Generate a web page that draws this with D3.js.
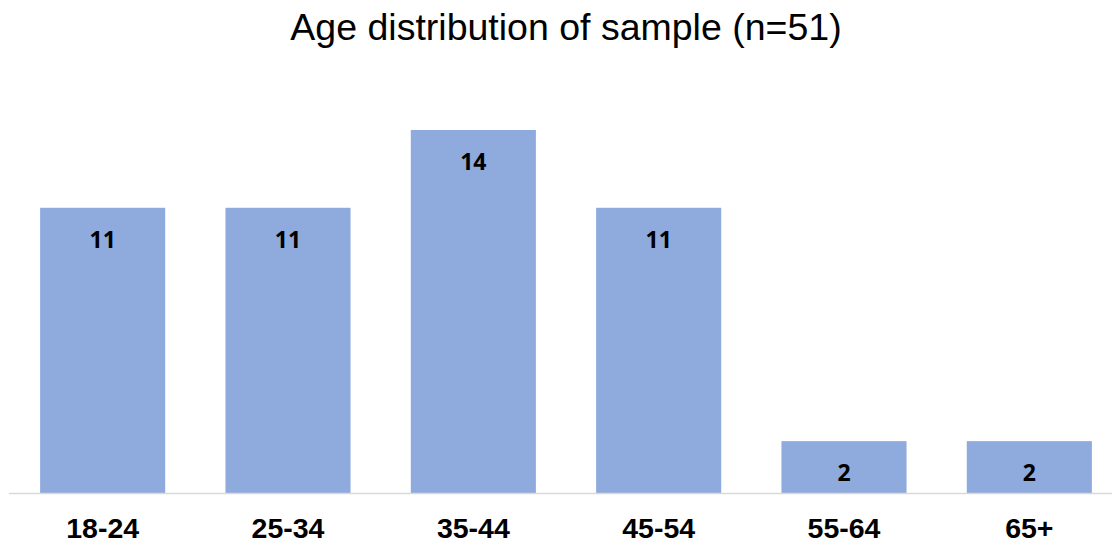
<!DOCTYPE html>
<html>
<head>
<meta charset="utf-8">
<script src="https://cdn.jsdelivr.net/npm/d3@7"></script>
<style>
  html, body { margin: 0; padding: 0; background: #fff; }
</style>
</head>
<body>
<div id="chart"></div>
<script>
const ageGroups = ['18-24', '25-34', '35-44', '45-54', '55-64', '65+']
const counts = [11, 11, 14, 11, 2, 2]
const titleText = 'Age distribution of sample (n=51)'

const width = 1112, height = 544
const svg = d3.select('#chart').append('svg').attr('width', width).attr('height', height)

const x = d3.scaleBand().domain(ageGroups).range([10, 1122]).paddingInner(0.325).paddingOuter(0.1625)
const y = d3.scaleLinear().domain([0, 14]).range([493, 130])

// title
svg.append('text')
  .attr('x', 566).attr('y', 40).attr('text-anchor', 'middle')
  .style('font-family', 'Liberation Sans, Arial, sans-serif').style('font-size', '37.5px')
  .attr('fill', '#000').text(titleText)

// bars
svg.append('g').selectAll('rect').data(counts).join('rect')
  .attr('x', (d, i) => x(ageGroups[i])).attr('width', x.bandwidth())
  .attr('y', d => y(d)).attr('height', d => y(0) - y(d))
  .attr('fill', '#8faadc')

// baseline
svg.append('line')
  .attr('x1', 9).attr('x2', width).attr('y1', y(0) + 0.5).attr('y2', y(0) + 0.5)
  .attr('stroke', '#d9d9d9').attr('stroke-width', 1.5)

// value labels
svg.append('g').selectAll('text').data(counts).join('text')
  .attr('x', (d, i) => x(ageGroups[i]) + x.bandwidth() / 2)
  .attr('y', d => y(d) + 40).attr('text-anchor', 'middle')
  .style('font-family', '"Open Sans", sans-serif').style('font-weight', '700').style('font-size', '23px')
  .attr('fill', '#000').text(d => d)

// category axis
const xAxis = svg.append('g').attr('transform', `translate(0,${y(0)})`)
  .call(d3.axisBottom(x).tickSize(0).tickPadding(0))
xAxis.select('.domain').remove()
xAxis.selectAll('text')
  .attr('dy', null).attr('y', 45)
  .style('font-family', 'Liberation Sans, Arial, sans-serif').style('font-weight', 'bold').style('font-size', '28.5px')
  .attr('fill', '#000')
</script>
</body>
</html>
